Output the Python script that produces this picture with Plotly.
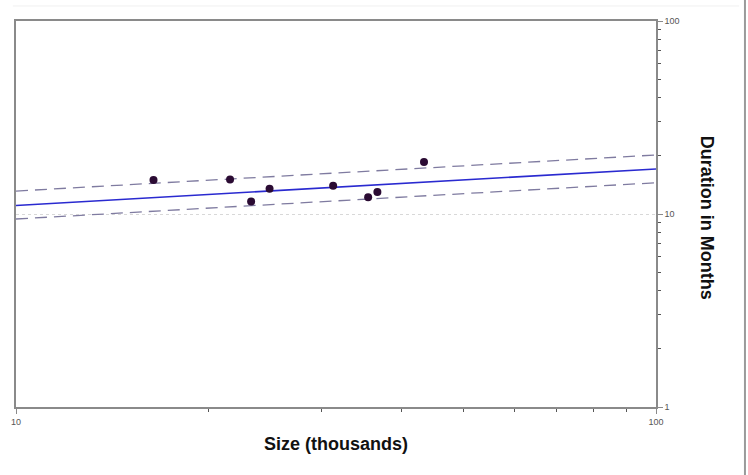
import plotly.graph_objects as go

# Observed data
size_k = [16.4, 21.6, 23.3, 24.9, 31.3, 35.5, 36.7, 43.4]
duration = [15.0, 15.1, 11.6, 13.5, 14.0, 12.2, 13.0, 18.6]

# Regression line and confidence bounds (at the ends of the axis)
fit_x = [10, 100]
fit_y = [11.07, 17.11]
upper_y = [13.15, 20.22]
lower_y = [9.42, 14.52]

x_major = [10, 100]
x_minor = [20, 30, 40, 50, 60, 70, 80, 90]
y_major = [1, 10, 100]
y_minor = [2, 3, 4, 5, 6, 7, 8, 9, 20, 30, 40, 50, 60, 70, 80, 90]

fig = go.Figure()
fig.add_trace(go.Scatter(x=fit_x, y=upper_y, mode="lines",
                         line=dict(color="#7f7ba0", width=1.3, dash="12px,7px"), showlegend=False))
fig.add_trace(go.Scatter(x=fit_x, y=lower_y, mode="lines",
                         line=dict(color="#7f7ba0", width=1.3, dash="12px,7px"), showlegend=False))
fig.add_trace(go.Scatter(x=fit_x, y=fit_y, mode="lines",
                         line=dict(color="#2a2ad0", width=1.6), showlegend=False))
fig.add_trace(go.Scatter(x=size_k, y=duration, mode="markers",
                         marker=dict(color="#2b0b33", size=8), showlegend=False))

axis_line = "#8a8a8a"
fig.update_xaxes(type="log", range=[1, 2], tickmode="array", tickvals=x_major,
                 ticktext=[str(v) for v in x_major], ticks="outside", ticklen=5,
                 tickcolor=axis_line, showgrid=False, zeroline=False,
                 showline=True, linecolor=axis_line, linewidth=1.5, mirror=True,
                 tickfont=dict(family="Arial", size=9, color="#555"),
                 minor=dict(tickmode="array", tickvals=x_minor, ticks="outside",
                            ticklen=3, tickcolor="#555", showgrid=False))
fig.update_yaxes(type="log", range=[0, 2], side="right", tickmode="array",
                 tickvals=y_major, ticktext=[str(v) for v in y_major],
                 ticks="outside", ticklen=5, tickcolor=axis_line,
                 showgrid=True, gridcolor="#d8d8d8", griddash="dot", gridwidth=1,
                 zeroline=False, showline=True, linecolor=axis_line, linewidth=1.5,
                 mirror=True, tickfont=dict(family="Arial", size=9, color="#555"),
                 minor=dict(tickmode="array", tickvals=y_minor, ticks="outside",
                            ticklen=3, tickcolor="#555", showgrid=False))

fig.add_annotation(text="<b>Size (thousands)</b>", xref="paper", yref="paper",
                   x=0.5, y=-0.066, xanchor="center", yanchor="top", showarrow=False,
                   font=dict(family="Arial", size=18, color="#111"))
fig.add_annotation(text="<b>Duration in Months</b>", xref="paper", yref="paper",
                   x=1.08, y=0.49, xanchor="center", yanchor="middle", showarrow=False,
                   textangle=90, font=dict(family="Arial", size=18, color="#111"))

# outer frame of the picture
fig.add_shape(type="line", xref="paper", yref="paper", x0=1.139, x1=1.139,
              y0=-0.2, y1=1.06, line=dict(color="#9a9a9a", width=2))
fig.add_shape(type="line", xref="paper", yref="paper", x0=-0.005, x1=1.13,
              y0=1.039, y1=1.039, line=dict(color="#f0f0f0", width=1))

fig.update_layout(width=748, height=475, margin=dict(l=16, r=92, t=21, b=68),
                  plot_bgcolor="white", paper_bgcolor="white")
fig.write_html("out.html")
